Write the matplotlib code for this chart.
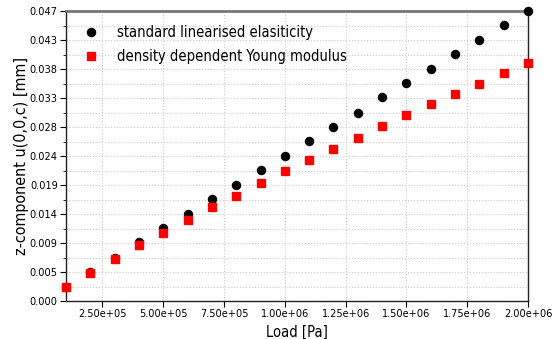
import matplotlib
matplotlib.use('Agg')
import numpy as np
import matplotlib.pyplot as plt
from matplotlib.ticker import FixedLocator, FuncFormatter

plt.rcParams['font.family'] = 'DejaVu Sans'
plt.rcParams['font.stretch'] = 'condensed'

# Applied load [Pa]
load = [1e5, 2e5, 3e5, 4e5, 5e5, 6e5, 7e5, 8e5, 9e5, 1.0e6,
        1.1e6, 1.2e6, 1.3e6, 1.4e6, 1.5e6, 1.6e6, 1.7e6, 1.8e6, 1.9e6, 2.0e6]

# z-displacement at (0,0,c) [mm]
u_standard = [0.0023, 0.0047, 0.0070, 0.0096, 0.0119, 0.0141, 0.0165, 0.0188, 0.0212, 0.0235,
              0.0259, 0.0282, 0.0305, 0.0330, 0.0353, 0.0376, 0.0400, 0.0423, 0.0447, 0.0470]
u_density = [0.0023, 0.0046, 0.0068, 0.0090, 0.0111, 0.0131, 0.0152, 0.0171, 0.0191, 0.0210,
             0.0229, 0.0247, 0.0265, 0.0284, 0.0301, 0.0319, 0.0335, 0.0352, 0.0369, 0.0385]

x_ticks = [2.5e5, 5.0e5, 7.5e5, 1.0e6, 1.25e6, 1.5e6, 1.75e6, 2.0e6]
y_ticks = np.linspace(0, 0.047, 11)
y_labels = ['0.000', '0.005', '0.009', '0.014', '0.019', '0.024',
            '0.028', '0.033', '0.038', '0.043', '0.047']

fig = plt.figure(figsize=(5.57, 3.39), dpi=100)
ax = fig.add_axes([0.1185, 0.112, 0.8295, 0.8555])

ax.plot(load, u_standard, 'o', color='black', markersize=5.8,
        label='standard linearised elasiticity', clip_on=False, zorder=3)
ax.plot(load, u_density, 's', color='#ff0000', markersize=5.2,
        label='density dependent Young modulus', clip_on=False, zorder=3)

ax.set_xlim(1e5, 2e6)
ax.set_ylim(0, 0.047)

ax.xaxis.set_major_locator(FixedLocator(x_ticks))
ax.xaxis.set_major_formatter(FuncFormatter(lambda v, p: '{0:.2e}'.format(v)))
ax.yaxis.set_major_locator(FixedLocator(y_ticks))
ax.set_yticklabels(y_labels)
ax.yaxis.set_minor_locator(FixedLocator((y_ticks[:-1] + y_ticks[1:]) / 2))

ax.tick_params(axis='both', which='major', labelsize=7.8, length=4, direction='out', pad=2)
ax.tick_params(axis='y', which='minor', length=2)

ax.grid(True, which='major', axis='both', color='#cccccc', linestyle=':', linewidth=0.8)
ax.grid(True, which='minor', axis='y', color='#cccccc', linestyle=':', linewidth=0.8)
ax.set_axisbelow(True)

for side in ['left', 'bottom', 'right']:
    ax.spines[side].set_color('#222222')
    ax.spines[side].set_linewidth(1.0)
ax.spines['top'].set_color('#777777')
ax.spines['top'].set_linewidth(2.0)

ax.set_xlabel('Load [Pa]', fontsize=10.5, labelpad=4)
ax.set_ylabel('z-component u(0,0,c) [mm]', fontsize=11.5, labelpad=0)
ax.yaxis.set_label_coords(-0.08, 0.5)

ax.legend(loc='upper left', frameon=False, fontsize=10.5, handlelength=2.0,
          handletextpad=0.8, borderaxespad=0.0, labelspacing=0.6,
          bbox_to_anchor=(0.009, 0.971))

fig.savefig('out.png', dpi=100)
